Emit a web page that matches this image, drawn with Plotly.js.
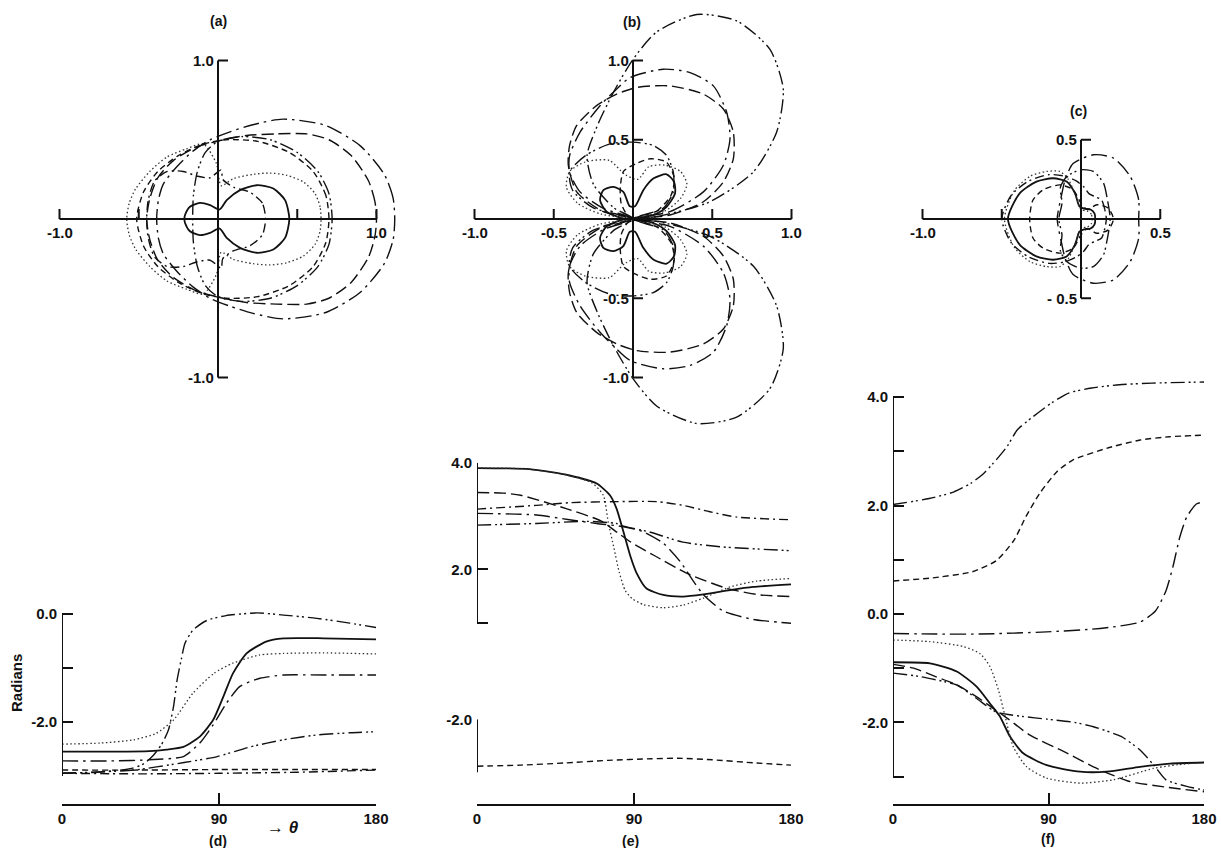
<!DOCTYPE html>
<html><head><meta charset="utf-8">
<script src="https://cdn.plot.ly/plotly-3.0.1.min.js"></script>
<style>html,body{margin:0;padding:0;background:#fff}#chart{width:1221px;height:848px}</style>
</head><body><div id="chart"></div>
<script>
// ---------- DATA ----------
// Polar diagrams: upper half of each locus, [x, y] from theta=0 (right) to theta=180 (left);
// the lower half is the mirror image about the horizontal axis.
// Panel (a)
const aSolid = [[0.45,0],[0.423,0.119],[0.349,0.192],[0.244,0.213],[0.139,0.182],[0.055,0.119],[0.01,0.06],[-0.05,0.088],[-0.114,0.102],[-0.177,0.077],[-0.208,0.025],[-0.212,0]];
const aDotted = [[0.65,0],[0.644,0.077],[0.612,0.161],[0.538,0.234],[0.433,0.276],[0.328,0.29],[0.223,0.282],[0.097,0.255],[0.02,0.21],[-0.01,0.35],[-0.093,0.474],[-0.198,0.443],[-0.324,0.39],[-0.43,0.3],[-0.52,0.19],[-0.56,0.1],[-0.576,0]];
const aDashDotDot = [[0.72,0],[0.70,0.16],[0.63,0.3],[0.5,0.42],[0.33,0.5],[0.15,0.52],[0.0,0.49],[-0.08,0.42],[-0.13,0.3],[-0.155,0.15],[-0.16,0]];
const aLongDash = [[1.0,0],[0.99,0.11],[0.95,0.24],[0.84,0.4],[0.7,0.5],[0.56,0.537],[0.37,0.537],[0.18,0.527],[0.013,0.495],[-0.135,0.454],[-0.28,0.37],[-0.38,0.26],[-0.43,0.13],[-0.45,0]];
const aLongDashDot = [[1.115,0],[1.105,0.13],[1.05,0.28],[0.9,0.46],[0.68,0.59],[0.41,0.63],[0.22,0.595],[0.076,0.55],[-0.05,0.5],[-0.156,0.43],[-0.26,0.33],[-0.345,0.22],[-0.376,0.12],[-0.387,0]];
const aDash = [[0.7,0],[0.68,0.15],[0.6,0.3],[0.45,0.42],[0.25,0.49],[0.05,0.5],[-0.1,0.47],[-0.25,0.4],[-0.38,0.3],[-0.47,0.17],[-0.513,0]];
const aDashDot = [[0.3,0],[0.28,0.1],[0.2,0.17],[0.1,0.2],[0.03,0.25],[0.02,0.31],[-0.05,0.26],[-0.13,0.27],[-0.22,0.3],[-0.32,0.3],[-0.4,0.24],[-0.44,0.12],[-0.45,0]];
// Panel (b)
const bSolid = [[0,0],[0.128,0.025],[0.212,0.077],[0.265,0.161],[0.259,0.234],[0.212,0.282],[0.128,0.255],[0.065,0.182],[0.013,0.08],[-0.02,0.08],[-0.061,0.171],[-0.124,0.203],[-0.187,0.182],[-0.208,0.119],[-0.166,0.046],[-0.061,0.004],[0,0]];
const bDotted = [[0,0],[0.2,0.05],[0.3,0.13],[0.34,0.22],[0.3,0.3],[0.2,0.34],[0.1,0.33],[0.03,0.25],[-0.05,0.28],[-0.15,0.37],[-0.3,0.36],[-0.4,0.3],[-0.42,0.2],[-0.35,0.1],[-0.2,0.03],[0,0]];
const bDash = [[0,0],[0.15,0.05],[0.24,0.15],[0.26,0.26],[0.21,0.36],[0.11,0.38],[0.02,0.35],[-0.06,0.3],[-0.08,0.2],[-0.075,0.1],[-0.04,0.03],[0,0]];
const bDashDotDotSmall = [[0,0],[0.19,0.067],[0.254,0.171],[0.254,0.297],[0.212,0.401],[0.128,0.464],[0,0.485],[-0.145,0.474],[-0.3,0.4],[-0.4,0.297],[-0.38,0.18],[-0.25,0.07],[0,0]];
const bDashDot = [[0,0],[0.233,0.046],[0.444,0.171],[0.57,0.339],[0.612,0.506],[0.591,0.673],[0.507,0.84],[0.36,0.924],[0.191,0.945],[-0.019,0.892],[-0.124,0.8],[-0.208,0.715],[-0.334,0.548],[-0.4,0.4],[-0.4,0.297],[-0.334,0.171],[-0.187,0.067],[0,0]];
const bLongDash = [[0,0],[0.233,0.025],[0.444,0.109],[0.57,0.234],[0.633,0.38],[0.633,0.548],[0.57,0.694],[0.444,0.788],[0.233,0.84],[0.023,0.83],[-0.103,0.788],[-0.23,0.715],[-0.355,0.59],[-0.4,0.464],[-0.408,0.339],[-0.355,0.171],[-0.187,0.046],[0,0]];
const bDashDotDotBig = [[0,0],[0.149,0.015],[0.486,0.109],[0.759,0.297],[0.906,0.548],[0.948,0.819],[0.864,1.07],[0.654,1.25],[0.402,1.29],[0.149,1.18],[0,1.007],[-0.124,0.798],[-0.22,0.6],[-0.29,0.4],[-0.25,0.22],[-0.12,0.07],[0,0]];
// Panel (c)
const cSolid = [[0.09,0],[0.085,0.035],[0.06,0.06],[0.02,0.065],[-0.01,0.08],[-0.038,0.162],[-0.091,0.236],[-0.176,0.257],[-0.281,0.236],[-0.387,0.162],[-0.461,0]];
const cDotted = [[0.07,0],[0.065,0.03],[0.04,0.05],[0.0,0.06],[-0.03,0.14],[-0.08,0.25],[-0.133,0.3],[-0.218,0.3],[-0.32,0.27],[-0.42,0.18],[-0.483,0]];
const cLongDashDot = [[0.364,0],[0.364,0.12],[0.311,0.268],[0.205,0.384],[0.078,0.405],[-0.05,0.35],[-0.1,0.247],[-0.125,0.14],[-0.15,0]];
const cDashDotDot = [[0.184,0],[0.163,0.141],[0.142,0.226],[0.078,0.3],[-0.006,0.31],[-0.09,0.268],[-0.13,0.2],[-0.12,0.1],[-0.14,0]];
const cDash = [[0.205,0],[0.17,0.07],[0.1,0.09],[0.04,0.06],[0.0,0.1],[-0.049,0.184],[-0.133,0.215],[-0.239,0.184],[-0.303,0.12],[-0.324,0]];
const cDashDot = [[0.16,0],[0.15,0.06],[0.13,0.12],[0.09,0.14],[0.05,0.16],[0.02,0.2],[-0.03,0.24],[-0.1,0.27],[-0.2,0.28],[-0.33,0.24],[-0.44,0.15],[-0.5,0]];

// Phase curves: [theta (deg), radians]
// Panel (d)
const dSteep = [[0,-2.95],[20,-2.93],[40,-2.86],[47,-2.77],[52,-2.63],[57,-2.42],[61,-2.15],[64,-1.7],[66,-1.22],[68.5,-0.82],[70.5,-0.54],[75,-0.30],[83,-0.12],[94,-0.03],[112,0.02],[127,-0.02],[146,-0.08],[165,-0.17],[180,-0.25]];
const dSolid = [[0,-2.55],[30,-2.55],[50,-2.54],[60,-2.51],[69.6,-2.46],[79,-2.27],[86.7,-1.96],[92.5,-1.53],[98,-1.10],[105.8,-0.73],[117,-0.51],[127,-0.45],[150,-0.45],[180,-0.47]];
const dDotted = [[0,-2.41],[22,-2.39],[41,-2.33],[54,-2.21],[64,-1.96],[75,-1.47],[87,-1.10],[98,-0.91],[113,-0.76],[127,-0.73],[150,-0.72],[180,-0.74]];
const dLongDashDot = [[0,-2.72],[30,-2.72],[50,-2.70],[69.6,-2.64],[79,-2.39],[86.7,-2.05],[94.3,-1.65],[102,-1.34],[113.5,-1.19],[127,-1.13],[150,-1.13],[180,-1.13]];
const dDashDotDot = [[0,-2.95],[41,-2.89],[70,-2.75],[89,-2.64],[108,-2.46],[127,-2.33],[146,-2.24],[165,-2.2],[180,-2.18]];
const dDash = [[0,-2.89],[45,-2.89],[90,-2.88],[135,-2.88],[180,-2.88]];
const dDashDot = [[0,-2.95],[45,-2.96],[90,-2.95],[135,-2.93],[180,-2.89]];
// Panel (e)
const eSolid = [[0,3.9],[30,3.88],[53,3.76],[68.6,3.61],[76.2,3.39],[80,3.14],[83.9,2.71],[87.7,2.27],[91.5,1.93],[97.2,1.64],[106.8,1.52],[118.2,1.49],[129.7,1.53],[145,1.61],[158.4,1.67],[180,1.72]];
const eDotted = [[0,3.9],[30,3.88],[53,3.76],[66,3.62],[72.4,3.39],[75.2,2.89],[78.5,2.4],[81.5,1.95],[85,1.6],[89,1.45],[95.3,1.34],[106.8,1.28],[118.2,1.33],[129.7,1.46],[145,1.67],[160.3,1.78],[180,1.83]];
const eDashDot = [[0,3.13],[34,3.2],[53,3.25],[80,3.27],[103,3.27],[118,3.2],[133.5,3.08],[149,2.98],[180,2.93]];
const eDashDotDot = [[0,2.83],[34,2.86],[63,2.9],[80,2.86],[84,2.81],[99,2.7],[118,2.51],[141,2.42],[180,2.35]];
const eDash = [[0,3.44],[15,3.43],[25,3.39],[52,3.13],[71,2.91],[80.5,2.69],[88.2,2.51],[101.6,2.26],[120.7,1.92],[143.6,1.64],[162.7,1.52],[180,1.49]];
const eLongDashDot = [[0,3.05],[34,3.02],[53,2.93],[68.6,2.86],[84,2.8],[95,2.71],[106.8,2.49],[116.4,2.15],[124,1.78],[129.7,1.53],[141,1.22],[158.4,1.06],[180,0.99]];
const eLower = [[0,-2.88],[25,-2.86],[50,-2.82],[75,-2.77],[100,-2.74],[115,-2.73],[135,-2.76],[160,-2.82],[180,-2.86]];
// Panel (f)
const fTop = [[0,2.02],[21,2.13],[35,2.25],[45,2.41],[52,2.58],[58,2.78],[66,3.09],[72,3.4],[81,3.64],[92,3.9],[102,4.08],[115,4.17],[131,4.23],[150,4.26],[180,4.28]];
const fMid = [[0,0.61],[21,0.66],[46,0.78],[60,0.99],[70,1.36],[77,1.8],[85,2.23],[95,2.63],[104,2.84],[124,3.06],[143,3.21],[160,3.27],[180,3.3]];
const fLow = [[0,-0.36],[25,-0.37],[50,-0.37],[89,-0.33],[115,-0.28],[127,-0.24],[143,-0.15],[152,0.06],[158,0.43],[162,0.87],[166,1.42],[170,1.79],[175.6,2.03],[180,2.07]];
const fSolid = [[0,-0.89],[21.4,-0.91],[36.9,-1.06],[48.4,-1.34],[56.1,-1.65],[61.9,-1.89],[67.7,-2.26],[75.4,-2.57],[89,-2.79],[108.3,-2.91],[123.7,-2.91],[143,-2.82],[160.4,-2.76],[180,-2.74]];
const fDotted = [[0,-0.48],[21.4,-0.51],[40.7,-0.6],[50.3,-0.73],[56.1,-0.97],[61,-1.4],[64.9,-1.89],[69.6,-2.45],[77.4,-2.82],[89,-3.03],[108.3,-3.12],[127.4,-3.06],[150.7,-2.85],[165,-2.78],[180,-2.74]];
const fLongDash = [[0,-0.93],[12,-1.0],[25,-1.16],[37,-1.31],[48,-1.52],[58,-1.74],[66,-1.92],[79,-2.23],[99,-2.54],[118,-2.85],[137,-3.09],[157,-3.19],[180,-3.28]];
const fDashDotDot = [[0,-1.09],[15,-1.15],[30,-1.25],[37,-1.31],[48,-1.55],[58,-1.78],[62,-1.83],[75,-1.89],[89,-1.94],[105,-2.0],[116,-2.08],[132,-2.26],[143,-2.51],[151,-2.79],[158,-3.06],[170,-3.18],[180,-3.25]];

// Axis ticks / labels
const aXTicks = [-1,-0.5,0.5,1], aYTicks = [-1,1];
const aXLabels = ['-1.0','1.0'], aXLabelVals = [-1,1], aYLabels = ['1.0','-1.0'], aYLabelVals = [1,-1];
const bXTicks = [-1,-0.5,0.5,1], bYTicks = [-1,-0.5,0.5,1];
const bXLabels = ['-1.0','-0.5','0.5','1.0'], bXLabelVals = [-1,-0.5,0.5,1], bYLabels = ['1.0','0.5','-0.5','-1.0'], bYLabelVals = [1,0.5,-0.5,-1];
const cXTicks = [-1,-0.5,0.5], cYTicks = [-0.5,0.5];
const cXLabels = ['-1.0','0.5'], cXLabelVals = [-1,0.5], cYLabels = ['0.5','- 0.5'], cYLabelVals = [0.5,-0.5];
const thetaTicks = [0,90,180], thetaLabels = ['0','90','180'];
const dYTicks = [0,-1,-2], dYLabels = ['0.0','','-2.0'];
const eYTicksTop = [4,2,1], eYLabelsTop = ['4.0','2.0',''];
const eYTicksBot = [-2,-3], eYLabelsBot = ['-2.0',''];
const fYTicks = [4,3,2,1,0,-1,-2,-3], fYLabels = ['4.0','','2.0','','0.0','','-2.0',''];

// ---------- BUILD ----------
const W = 1221, H = 848, SC = 158.5;
const INK = '#111';
const DASH = {
  solid:'solid', dot:'1.5px,2.5px', dash:'6px,4px', longdash:'12px,5px',
  dashdot:'9px,4px,2px,4px', longdashdot:'16px,5px,2.5px,5px', ddd:'14px,4px,2px,3px,2px,4px'
};
function lineStyle(s){
  return {color: s==='dot' ? '#333' : INK, width: s==='solid' ? 1.8 : (s==='dot' ? 1.3 : 1.4),
          dash: DASH[s], shape:'spline', smoothing:0.7};
}
function polarTrace(pts, s, xa, ya){
  const low = pts.slice(0,-1).reverse();
  return {type:'scatter', mode:'lines', xaxis:xa, yaxis:ya, hoverinfo:'skip', showlegend:false,
    x: pts.map(p=>p[0]).concat(low.map(p=>p[0])),
    y: pts.map(p=>p[1]).concat(low.map(p=>-p[1])),
    line: lineStyle(s)};
}
function phaseTrace(pts, s, xa, ya){
  const st = lineStyle(s); st.smoothing = 0.6;
  return {type:'scatter', mode:'lines', xaxis:xa, yaxis:ya, hoverinfo:'skip', showlegend:false,
    x: pts.map(p=>p[0]), y: pts.map(p=>p[1]), line: st};
}

const traces = [];
[[aSolid,'solid'],[aDotted,'dot'],[aDashDotDot,'ddd'],[aLongDash,'longdash'],[aLongDashDot,'longdashdot'],[aDash,'dash'],[aDashDot,'dashdot']]
  .forEach(c=>traces.push(polarTrace(c[0],c[1],'x','y')));
[[bSolid,'solid'],[bDotted,'dot'],[bDash,'dash'],[bDashDotDotSmall,'ddd'],[bDashDot,'longdashdot'],[bLongDash,'longdash'],[bDashDotDotBig,'ddd']]
  .forEach(c=>traces.push(polarTrace(c[0],c[1],'x2','y2')));
[[cSolid,'solid'],[cDotted,'dot'],[cLongDashDot,'longdashdot'],[cDashDotDot,'ddd'],[cDash,'dash'],[cDashDot,'dashdot']]
  .forEach(c=>traces.push(polarTrace(c[0],c[1],'x3','y3')));
[[dSteep,'ddd'],[dSolid,'solid'],[dDotted,'dot'],[dLongDashDot,'longdashdot'],[dDashDotDot,'ddd'],[dDash,'dash'],[dDashDot,'dashdot']]
  .forEach(c=>traces.push(phaseTrace(c[0],c[1],'x4','y4')));
[[eSolid,'solid'],[eDotted,'dot'],[eDashDot,'dashdot'],[eDashDotDot,'ddd'],[eDash,'longdash'],[eLongDashDot,'longdashdot']]
  .forEach(c=>traces.push(phaseTrace(c[0],c[1],'x5','y5')));
traces.push(phaseTrace(eLower,'dash','x5','y6'));
[[fTop,'ddd'],[fMid,'dash'],[fLow,'longdashdot'],[fSolid,'solid'],[fDotted,'dot'],[fLongDash,'longdash'],[fDashDotDot,'ddd']]
  .forEach(c=>traces.push(phaseTrace(c[0],c[1],'x6','y7')));

// layout helpers
const FONT = {family:'Liberation Sans, Arial, sans-serif', size:15, color:INK, weight:'bold'};
function pdom(ox, oy, xr, yr){
  return {x:[(ox + xr[0]*SC)/W, (ox + xr[1]*SC)/W], y:[1-(oy - yr[0]*SC)/H, 1-(oy - yr[1]*SC)/H]};
}
function hidden(range, domain, anchor){
  return {range, domain, anchor, showgrid:false, zeroline:false, showticklabels:false, ticks:'', showline:false, fixedrange:true};
}
const shapes = [], annotations = [];
function polarAxes(xa, ya, xext, yext, xt, yt, xl, xlv, yl, ylv){
  const tl = 10/SC;
  const ln = (x0,y0,x1,y1)=>shapes.push({type:'line', xref:xa, yref:ya, x0, y0, x1, y1, line:{color:INK, width:2}});
  ln(xext[0],0,xext[1],0); ln(0,yext[0],0,yext[1]);
  xt.forEach(v=>ln(v,0,v,tl));
  yt.forEach(v=>ln(0,v,tl,v));
  xl.forEach((t,i)=>annotations.push({xref:xa, yref:ya, x:xlv[i], y:0, text:t, showarrow:false, xanchor:'center', yanchor:'top', yshift:-3, font:FONT}));
  yl.forEach((t,i)=>annotations.push({xref:xa, yref:ya, x:0, y:ylv[i], text:t, showarrow:false, xanchor:'right', yanchor:'middle', xshift:-2, font:FONT}));
}
polarAxes('x','y',[-1,1],[-1,1],aXTicks,aYTicks,aXLabels,aXLabelVals,aYLabels,aYLabelVals);
polarAxes('x2','y2',[-1,1],[-1,1],bXTicks,bYTicks,bXLabels,bXLabelVals,bYLabels,bYLabelVals);
polarAxes('x3','y3',[-1,0.5],[-0.5,0.5],cXTicks,cYTicks,cXLabels,cXLabelVals,cYLabels,cYLabelVals);

// vertical axis lines of phase panels
const vline = (xa,ya,y0,y1)=>shapes.push({type:'line', xref:xa, yref:ya, x0:0, x1:0, y0, y1, line:{color:INK, width:2}});
vline('x4','y4',-3,0); vline('x5','y5',1,4); vline('x5','y6',-3,-2); vline('x6','y7',-3,4);

const dA = pdom(218,219,[-1.25,1.25],[-1.35,1.35]);
const dB = pdom(633,219,[-1.1,1.1],[-1.35,1.35]);
const dC = pdom(1081,219,[-1.1,0.7],[-0.7,0.7]);
const xPos = 1 - 805/H;
function thetaAxis(d0, d1){
  return {range:[0,180], domain:[d0/W, d1/W], anchor:'free', position:xPos, showline:true, linecolor:INK, linewidth:2,
    ticks:'inside', ticklen:11, tickwidth:2, tickcolor:INK, tickvals:thetaTicks, ticktext:thetaLabels,
    showgrid:false, zeroline:false, tickfont:FONT, fixedrange:true};
}
function phaseAxis(range, top, bottom, anchor, tv, tt){
  return {range, domain:[1-bottom/H, 1-top/H], anchor, showline:false, ticks:'inside', ticklen:11, tickwidth:2, tickcolor:INK,
    tickvals:tv, ticktext:tt, showgrid:false, zeroline:false, tickfont:FONT, fixedrange:true, ticklabelstandoff:4};
}

const paperLab = (x,y,t,extra)=>annotations.push(Object.assign({xref:'paper', yref:'paper', x:x/W, y:1-y/H, text:t, showarrow:false,
  xanchor:'center', yanchor:'middle', font:Object.assign({},FONT,{size:14})}, extra||{}));
paperLab(218,21,'(a)'); paperLab(632,22,'(b)'); paperLab(1078,111,'(c)');
paperLab(218,841,'(d)'); paperLab(630,841,'(e)'); paperLab(1048,839,'(f)');
paperLab(16,683,'Radians',{textangle:-90, font:Object.assign({},FONT,{size:15})});
paperLab(283,827,'\u2192 <i>\u03b8</i>',{font:Object.assign({},FONT,{size:17})});

const layout = {
  width:W, height:H, margin:{l:0,r:0,t:0,b:0}, paper_bgcolor:'#fff', plot_bgcolor:'rgba(0,0,0,0)',
  showlegend:false, font:FONT,
  xaxis: hidden([-1.25,1.25], dA.x, 'y'), yaxis: hidden([-1.35,1.35], dA.y, 'x'),
  xaxis2: hidden([-1.1,1.1], dB.x, 'y2'), yaxis2: hidden([-1.35,1.35], dB.y, 'x2'),
  xaxis3: hidden([-1.1,0.7], dC.x, 'y3'), yaxis3: hidden([-0.7,0.7], dC.y, 'x3'),
  xaxis4: thetaAxis(62,376),
  yaxis4: phaseAxis([-3.0,0.1], 614-0.1*54, 614+3*54, 'x4', dYTicks, dYLabels),
  xaxis5: thetaAxis(477,791),
  yaxis5: phaseAxis([0.95,4.0], 462.7, 462.7+3.05*53.33, 'x5', eYTicksTop, eYLabelsTop),
  yaxis6: phaseAxis([-3.0,-2.0], 719.3, 772.6, 'x5', eYTicksBot, eYLabelsBot),
  xaxis6: thetaAxis(893,1204),
  yaxis7: phaseAxis([-3.35,4.35], 614-4.35*54.2, 614+3.35*54.2, 'x6', fYTicks, fYLabels),
  shapes, annotations
};
Plotly.newPlot('chart', traces, layout, {staticPlot:true, displayModeBar:false});
</script></body></html>
